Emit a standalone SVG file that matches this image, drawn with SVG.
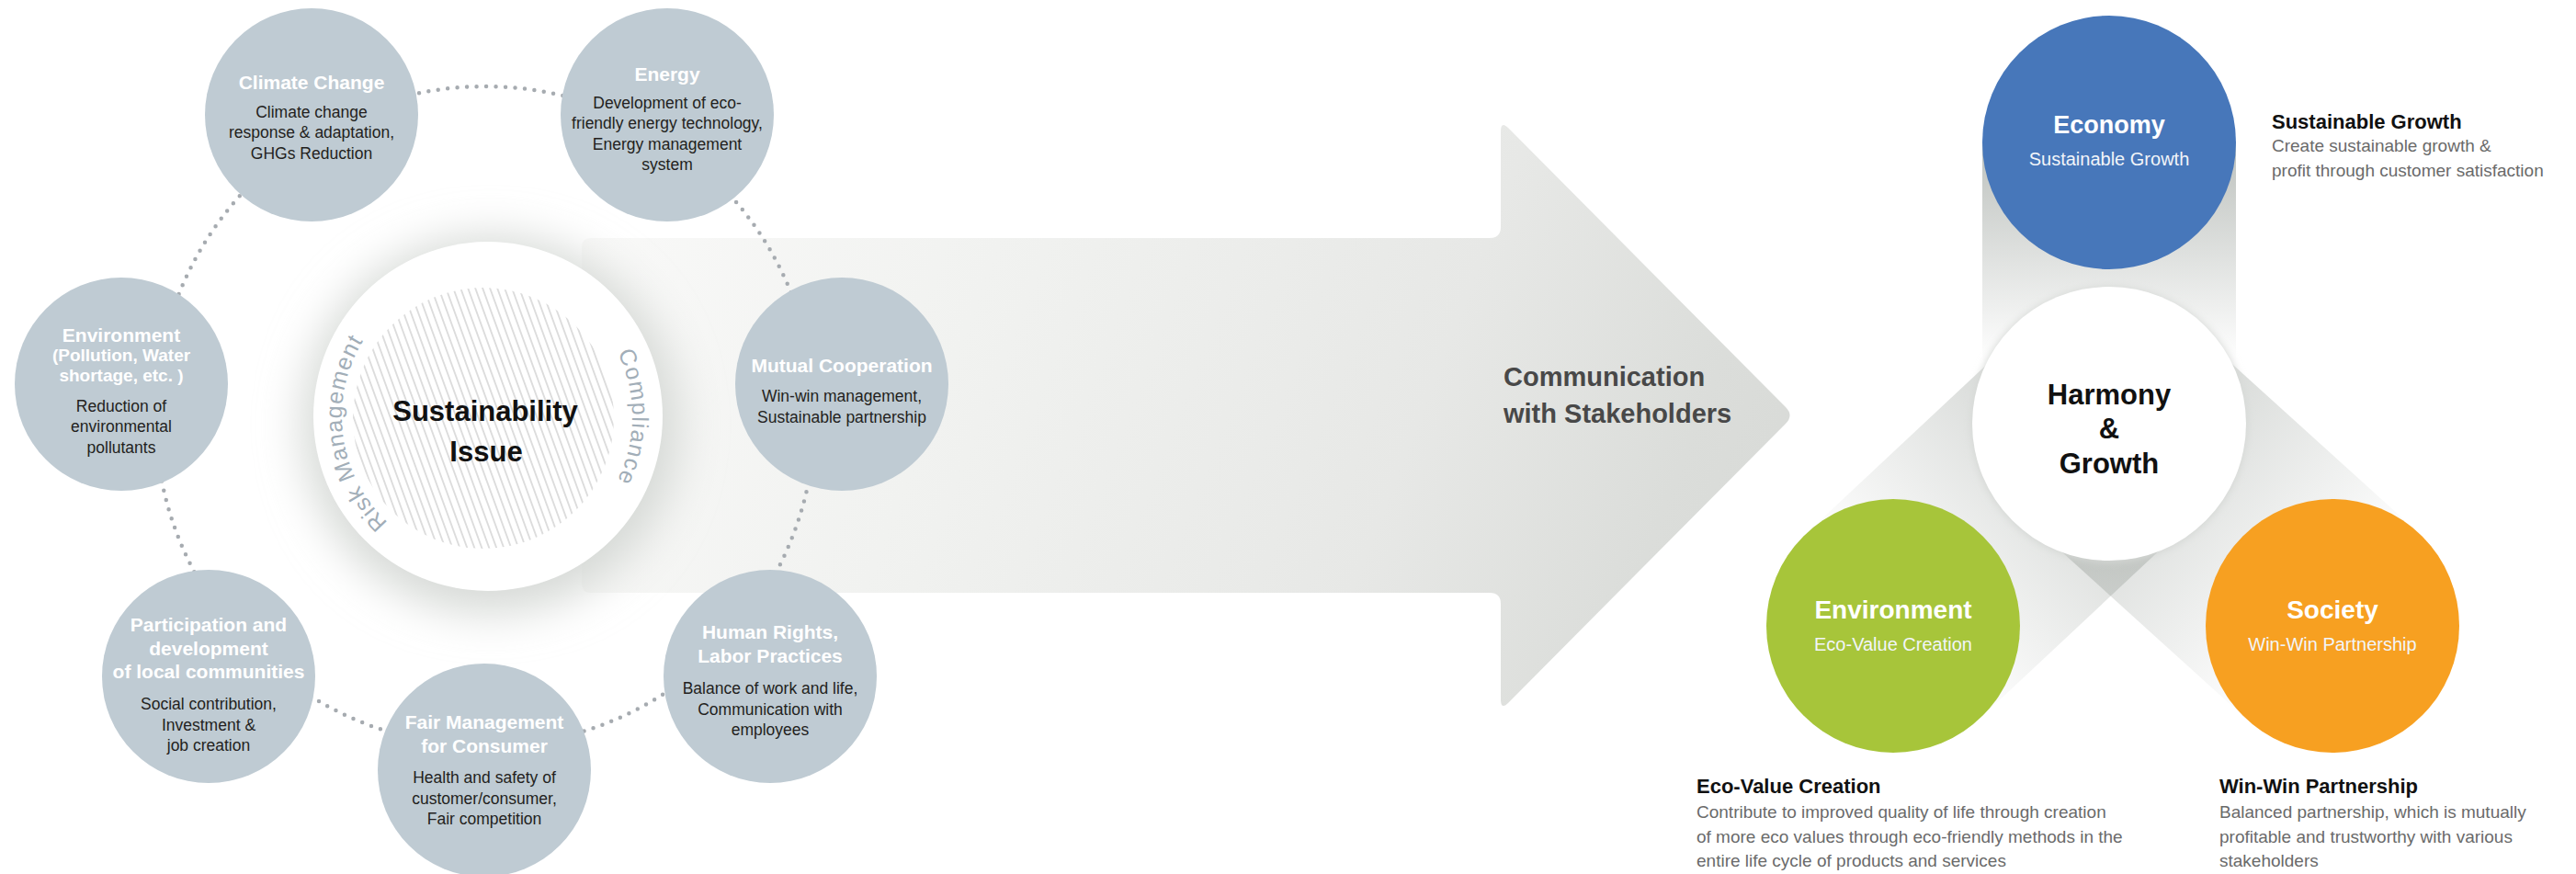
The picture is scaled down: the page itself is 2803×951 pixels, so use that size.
<svg xmlns="http://www.w3.org/2000/svg" xmlns:xlink="http://www.w3.org/1999/xlink" width="2803" height="951" viewBox="0 0 2803 951">
<defs>
<style>
.node{fill:#bfcbd3}
.t{font-family:"Liberation Sans",Arial,sans-serif;font-weight:700;font-size:21px;fill:#ffffff;text-anchor:middle}
.d{font-family:"Liberation Sans",Arial,sans-serif;font-size:17.5px;fill:#231f20;text-anchor:middle}
.big{font-family:"Liberation Sans",Arial,sans-serif;font-weight:700;font-size:31px;fill:#111111;text-anchor:middle}
.arc{font-family:"Liberation Sans",Arial,sans-serif;font-size:25px;fill:#a2aeb8}
.comm{font-family:"Liberation Sans",Arial,sans-serif;font-weight:700;font-size:29px;fill:#484848}
.ct{font-family:"Liberation Sans",Arial,sans-serif;font-weight:700;font-size:28px;fill:#ffffff;text-anchor:middle}
.cs{font-family:"Liberation Sans",Arial,sans-serif;font-size:20px;fill:#f2f5f9;text-anchor:middle}
.h{font-family:"Liberation Sans",Arial,sans-serif;font-weight:700;font-size:22px;fill:#111111}
.p{font-family:"Liberation Sans",Arial,sans-serif;font-size:19px;fill:#6a6a6a}
.dots{fill:none;stroke:#a6abb0;stroke-width:4.5;stroke-linecap:round;stroke-dasharray:0 10.5}
</style>
<linearGradient id="arrowGrad" gradientUnits="userSpaceOnUse" x1="633" y1="259" x2="1952" y2="773">
<stop offset="0" stop-color="#f9f9f8"/>
<stop offset="0.3" stop-color="#f1f2f0"/>
<stop offset="0.65" stop-color="#e7e8e6"/>
<stop offset="0.85" stop-color="#dbddda"/>
<stop offset="1" stop-color="#d6d8d5"/>
</linearGradient>
<linearGradient id="vband" gradientUnits="userSpaceOnUse" x1="0" y1="155" x2="0" y2="395">
<stop offset="0" stop-color="#0a1a0c" stop-opacity="0.27"/>
<stop offset="1" stop-color="#0a1a0c" stop-opacity="0"/>
</linearGradient>
<linearGradient id="envBand" gradientUnits="userSpaceOnUse" x1="2060" y1="681" x2="2295" y2="461">
<stop offset="0" stop-color="#0a1a0c" stop-opacity="0"/>
<stop offset="1" stop-color="#0a1a0c" stop-opacity="0.19"/>
</linearGradient>
<linearGradient id="socBand" gradientUnits="userSpaceOnUse" x1="2538" y1="681" x2="2295" y2="461">
<stop offset="0" stop-color="#0a1a0c" stop-opacity="0"/>
<stop offset="1" stop-color="#0a1a0c" stop-opacity="0.19"/>
</linearGradient>
<pattern id="hatch" width="7.5" height="7.5" patternUnits="userSpaceOnUse" patternTransform="rotate(-20)">
<line x1="3.75" y1="0" x2="3.75" y2="7.5" stroke="#c4c4c4" stroke-width="1.1"/>
</pattern>
<filter id="glow" x="-50%" y="-50%" width="200%" height="200%">
<feGaussianBlur stdDeviation="24"/>
</filter>
<filter id="soft" x="-20%" y="-20%" width="140%" height="140%">
<feGaussianBlur stdDeviation="4"/>
</filter>
<path id="riskPath" d="M 422.2 568.6 A 158 158 0 0 1 400.6 362.4"/>
<path id="compPath" d="M 672 383.7 A 158 158 0 0 1 666.8 532"/>
</defs>

<rect x="0" y="0" width="2803" height="951" fill="#ffffff"/>

<!-- big arrow -->
<g id="arrow">
<path fill="url(#arrowGrad)" d="M 643 259 H 1621 Q 1633 259 1633 247 V 143 Q 1633 131 1641.5 139.5 L 1943 443 Q 1952 452 1943 461 L 1641.5 764.5 Q 1633 773 1633 761 V 657 Q 1633 645 1621 645 H 643 Q 633 645 633 635 V 269 Q 633 259 643 259 Z"/>
<text class="comm" x="1636" y="420">Communication</text>
<text class="comm" x="1636" y="460">with Stakeholders</text>
</g>

<!-- right side bands -->
<g id="bands">
<rect x="2157" y="155" width="276" height="306" fill="url(#vband)"/>
<polygon points="2154.3,781.8 1965.7,580.2 2200.7,360.2 2389.3,561.8" fill="url(#envBand)"/>
<polygon points="2630.6,578.7 2445.4,783.3 2202.4,563.3 2387.6,358.7" fill="url(#socBand)"/>
</g>

<!-- connectors (dotted ring segments) -->
<g id="connectors">
<path class="dots" d="M 348.5 142.1 A 359 359 0 0 1 713.4 145.6"/>
<path class="dots" d="M 713.4 145.6 A 359 359 0 0 1 885.5 420.5"/>
<path class="dots" d="M 885.5 420.5 A 359 359 0 0 1 793.2 695.1"/>
<path class="dots" d="M 793.2 695.1 A 359 359 0 0 1 527.4 812"/>
<path class="dots" d="M 527.4 812 A 359 359 0 0 1 266.3 698.7"/>
<path class="dots" d="M 266.3 698.7 A 359 359 0 0 1 170.4 421.7"/>
<path class="dots" d="M 170.4 421.7 A 359 359 0 0 1 348.5 142.1"/>
</g>

<!-- central issue -->
<g id="node-sustainability">
<circle cx="534" cy="462" r="205" fill="#d6d9d6" filter="url(#glow)"/>
<circle cx="531" cy="453" r="190" fill="#ffffff"/>
<circle cx="526" cy="455" r="142" fill="url(#hatch)"/>
<text class="big" x="528" y="458">Sustainability</text>
<text class="big" x="529" y="502">Issue</text>
<text class="arc" letter-spacing="1"><textPath xlink:href="#riskPath" href="#riskPath">Risk Management</textPath></text>
<text class="arc" letter-spacing="1.3"><textPath xlink:href="#compPath" href="#compPath">Compliance</textPath></text>
</g>

<g id="node-climate">
<circle class="node" cx="339" cy="125" r="116"/>
<text class="t" x="339" y="97">Climate Change</text>
<text class="d"><tspan x="339" y="128">Climate change</tspan><tspan x="339" y="150">response &amp; adaptation,</tspan><tspan x="339" y="173">GHGs Reduction</tspan></text>
</g>

<g id="node-energy">
<circle class="node" cx="726" cy="125" r="116"/>
<text class="t" x="726" y="88">Energy</text>
<text class="d"><tspan x="726" y="118">Development of eco-</tspan><tspan x="726" y="140">friendly energy technology,</tspan><tspan x="726" y="163">Energy management</tspan><tspan x="726" y="185">system</tspan></text>
</g>

<g id="node-environment-left">
<circle class="node" cx="132" cy="418" r="116"/>
<text class="t" x="132" y="372">Environment</text>
<text class="t" style="font-size:19px"><tspan x="132" y="393">(Pollution, Water</tspan><tspan x="132" y="415">shortage, etc. )</tspan></text>
<text class="d"><tspan x="132" y="448">Reduction of</tspan><tspan x="132" y="470">environmental</tspan><tspan x="132" y="493">pollutants</tspan></text>
</g>

<g id="node-mutual">
<circle class="node" cx="916" cy="418" r="116"/>
<text class="t" x="916" y="405">Mutual Cooperation</text>
<text class="d"><tspan x="916" y="437">Win-win management,</tspan><tspan x="916" y="460">Sustainable partnership</tspan></text>
</g>

<g id="node-participation">
<circle class="node" cx="227" cy="736" r="116"/>
<text class="t"><tspan x="227" y="687">Participation and</tspan><tspan x="227" y="713">development</tspan><tspan x="227" y="738">of local communities</tspan></text>
<text class="d"><tspan x="227" y="772">Social contribution,</tspan><tspan x="227" y="795">Investment &amp;</tspan><tspan x="227" y="817">job creation</tspan></text>
</g>

<g id="node-fair">
<circle class="node" cx="527" cy="838" r="116"/>
<text class="t"><tspan x="527" y="793">Fair Management</tspan><tspan x="527" y="819">for Consumer</tspan></text>
<text class="d"><tspan x="527" y="852">Health and safety of</tspan><tspan x="527" y="875">customer/consumer,</tspan><tspan x="527" y="897">Fair competition</tspan></text>
</g>

<g id="node-human">
<circle class="node" cx="838" cy="736" r="116"/>
<text class="t"><tspan x="838" y="695">Human Rights,</tspan><tspan x="838" y="721">Labor Practices</tspan></text>
<text class="d"><tspan x="838" y="755">Balance of work and life,</tspan><tspan x="838" y="778">Communication with</tspan><tspan x="838" y="800">employees</tspan></text>
</g>

<!-- right triad -->
<g id="node-economy">
<circle cx="2295" cy="155" r="138" fill="#4777ba"/>
<text class="ct" x="2295" y="145" style="font-size:27px">Economy</text>
<text class="cs" x="2295" y="180">Sustainable Growth</text>
</g>

<g id="node-harmony">
<circle cx="2295" cy="462" r="150" fill="#d5d8d5" filter="url(#soft)"/>
<circle cx="2295" cy="461" r="149" fill="#ffffff"/>
<text class="big" x="2295" y="440">Harmony</text>
<text class="big" x="2295" y="477">&amp;</text>
<text class="big" x="2295" y="515">Growth</text>
</g>

<g id="node-environment">
<circle cx="2060" cy="681" r="138" fill="#a7c53a"/>
<text class="ct" x="2060" y="673">Environment</text>
<text class="cs" x="2060" y="708">Eco-Value Creation</text>
</g>

<g id="node-society">
<circle cx="2538" cy="681" r="138" fill="#f7a021"/>
<text class="ct" x="2538" y="673">Society</text>
<text class="cs" x="2538" y="708">Win-Win Partnership</text>
</g>

<g id="text-sustainable-growth">
<text class="h" x="2472" y="140">Sustainable Growth</text>
<text class="p"><tspan x="2472" y="165">Create sustainable growth &amp;</tspan><tspan x="2472" y="192">profit through customer satisfaction</tspan></text>
</g>

<g id="text-eco-value">
<text class="h" x="1846" y="863">Eco-Value Creation</text>
<text class="p"><tspan x="1846" y="890">Contribute to improved quality of life through creation</tspan><tspan x="1846" y="917">of more eco values through eco-friendly methods in the</tspan><tspan x="1846" y="943">entire life cycle of products and services</tspan></text>
</g>

<g id="text-win-win">
<text class="h" x="2415" y="863">Win-Win Partnership</text>
<text class="p"><tspan x="2415" y="890">Balanced partnership, which is mutually</tspan><tspan x="2415" y="917">profitable and trustworthy with various</tspan><tspan x="2415" y="943">stakeholders</tspan></text>
</g>
</svg>
